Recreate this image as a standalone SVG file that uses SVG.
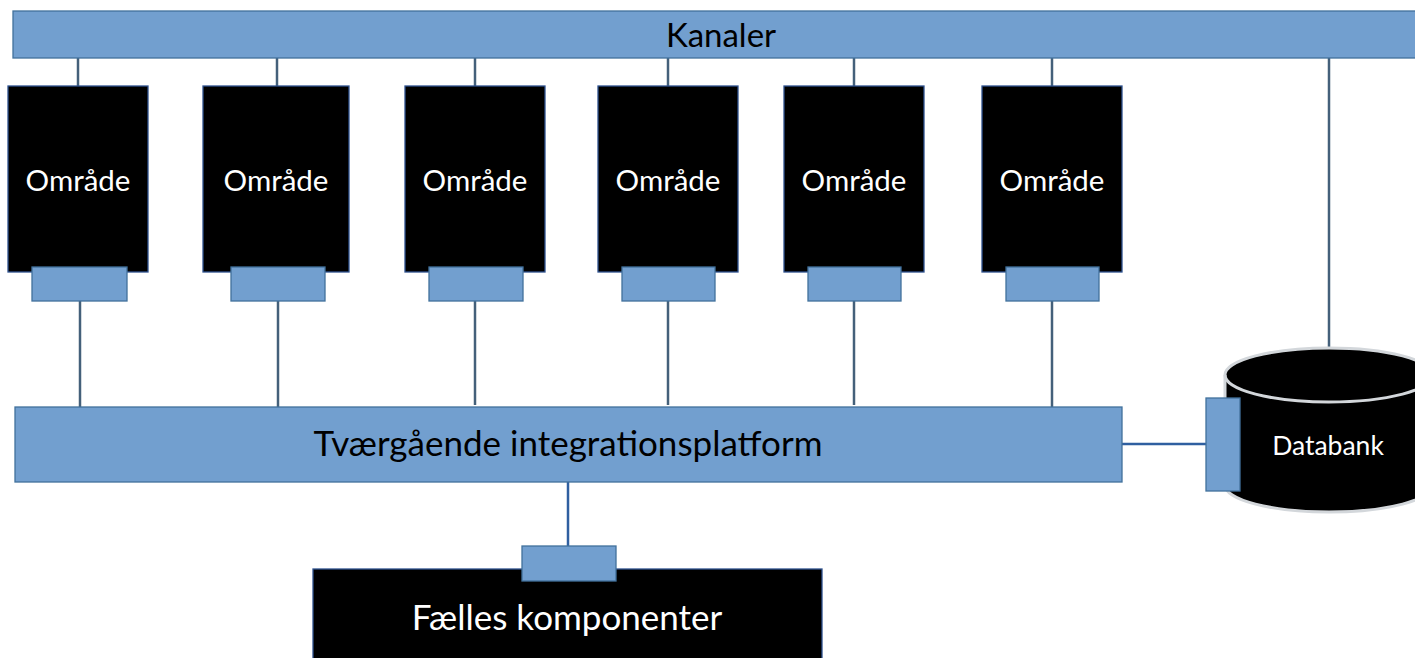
<svg xmlns="http://www.w3.org/2000/svg" width="1415" height="658" viewBox="0 0 1415 658">
<style>
.bar{fill:#729fcf;stroke:#41719c;stroke-width:1.3}
.port{fill:#729fcf;stroke:#41719c;stroke-width:1.3}
.blk{fill:#000;stroke:#2f528f;stroke-width:1.3}
.con{stroke:#44607a;stroke-width:2.5;fill:none}
.conb{stroke:#2f5fa0;stroke-width:2.5;fill:none}
.lbl{font-family:Lato,"Open Sans",sans-serif;text-anchor:middle}
.w{fill:#fff}
.k{fill:#000}
</style>
<rect width="1415" height="658" fill="#fff"/>
<g id="connectors">
<line class="con" x1="78" y1="58" x2="78" y2="86"/>
<line class="con" x1="277" y1="58" x2="277" y2="86"/>
<line class="con" x1="475" y1="58" x2="475" y2="86"/>
<line class="con" x1="668" y1="58" x2="668" y2="86"/>
<line class="con" x1="854" y1="58" x2="854" y2="86"/>
<line class="con" x1="1052" y1="58" x2="1052" y2="86"/>
<line class="con" x1="80" y1="301" x2="80" y2="407"/>
<line class="con" x1="278" y1="301" x2="278" y2="407"/>
<line class="con" x1="475" y1="301" x2="475" y2="405"/>
<line class="con" x1="668" y1="301" x2="668" y2="405"/>
<line class="con" x1="854" y1="301" x2="854" y2="405"/>
<line class="con" x1="1052" y1="301" x2="1052" y2="407"/>
<line class="con" x1="1329" y1="58" x2="1329" y2="348"/>
<line class="conb" x1="1122" y1="444" x2="1206" y2="444"/>
<line class="conb" x1="568" y1="482" x2="568" y2="546"/>
</g>
<g id="kanaler">
<rect class="bar" x="13" y="11" width="1410" height="47"/>
<text class="lbl k" x="721" y="47" font-size="33">Kanaler</text>
</g>
<g id="omraade1">
<rect class="blk" x="8" y="86" width="140" height="186"/>
<rect class="port" x="32" y="267" width="95" height="34"/>
<text class="lbl w" x="78" y="191" font-size="29.5">Område</text>
</g>
<g id="omraade2">
<rect class="blk" x="203" y="86" width="146" height="186"/>
<rect class="port" x="231" y="267" width="94" height="34"/>
<text class="lbl w" x="276" y="191" font-size="29.5">Område</text>
</g>
<g id="omraade3">
<rect class="blk" x="405" y="86" width="140" height="186"/>
<rect class="port" x="429" y="267" width="94" height="34"/>
<text class="lbl w" x="475" y="191" font-size="29.5">Område</text>
</g>
<g id="omraade4">
<rect class="blk" x="598" y="86" width="140" height="186"/>
<rect class="port" x="622" y="267" width="93" height="34"/>
<text class="lbl w" x="668" y="191" font-size="29.5">Område</text>
</g>
<g id="omraade5">
<rect class="blk" x="784" y="86" width="140" height="186"/>
<rect class="port" x="808" y="267" width="93" height="34"/>
<text class="lbl w" x="854" y="191" font-size="29.5">Område</text>
</g>
<g id="omraade6">
<rect class="blk" x="982" y="86" width="140" height="186"/>
<rect class="port" x="1006" y="267" width="93" height="34"/>
<text class="lbl w" x="1052" y="191" font-size="29.5">Område</text>
</g>
<g id="integration">
<rect class="bar" x="15" y="407" width="1107" height="75"/>
<text class="lbl k" x="568" y="456" font-size="35">Tværgående integrationsplatform</text>
</g>
<g id="databank">
<path d="M1225,375 A104,27 0 0 1 1433,375 L1433,485 A104,27 0 0 1 1225,485 Z" fill="#000" stroke="#d3d7db" stroke-width="3"/>
<path d="M1225,375 A104,27 0 0 0 1433,375" fill="none" stroke="#d3d7db" stroke-width="3"/>
<rect class="port" x="1206" y="398" width="34" height="93"/>
<text class="lbl w" x="1328" y="455" font-size="26.5">Databank</text>
</g>
<g id="faelles">
<rect class="blk" x="313" y="569" width="509" height="100"/>
<rect class="port" x="522" y="546" width="94" height="35"/>
<text class="lbl w" x="567" y="630" font-size="35">Fælles komponenter</text>
</g>
</svg>
